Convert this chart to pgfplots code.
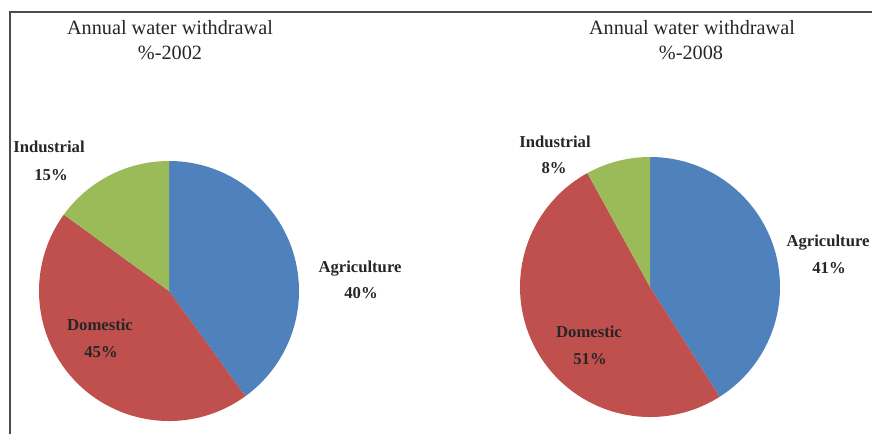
\documentclass[border=0pt]{standalone}
\usepackage{fontspec}
\setmainfont{Liberation Serif}
\usepackage{pgfplots}
\pgfplotsset{compat=1.18}

\definecolor{agri}{HTML}{4F81BD}
\definecolor{dome}{HTML}{C0504D}
\definecolor{indu}{HTML}{9BBB59}

% one wedge: centre x, centre y, start angle, share in %, colour (radius 130 px)
\newcommand{\slice}[5]{%
  \fill[#5] (axis cs:#1,#2) -- ++(#3:97.5pt)
    arc[start angle=#3, end angle={#3-3.6*#4}, radius=97.5pt] -- cycle;}

\begin{document}
\begin{tikzpicture}
\useasboundingbox (0,0) rectangle (654pt,324.75pt);
\clip (0,0) rectangle (654pt,324.75pt);
\begin{axis}[
    x=0.75pt, y=0.75pt,
    xmin=0, xmax=872, ymin=0, ymax=433,
    hide axis, clip=false,
  ]
  % 2002: Agriculture 40, Domestic 45, Industrial 15
  \slice{169}{142}{90}{40}{agri}
  \slice{169}{142}{-54}{45}{dome}
  \slice{169}{142}{-216}{15}{indu}
  % 2008: Agriculture 41, Domestic 51, Industrial 8
  \slice{650}{146}{90}{41}{agri}
  \slice{650}{146}{-57.6}{51}{dome}
  \slice{650}{146}{-241.2}{8}{indu}

  \draw[line width=1.1pt, black!70] (axis cs:10,-5) -- (axis cs:10,421) -- (axis cs:880,421);

  \tikzset{ttl/.style={font=\fontsize{15.2}{18}\selectfont, text=black!85},
           lbl/.style={font=\bfseries\fontsize{12.5}{15}\selectfont, text=black!85}}
  \node[ttl] at (axis cs:170,405) {Annual water withdrawal};
  \node[ttl] at (axis cs:170,380) {\%-2002};
  \node[ttl] at (axis cs:692,405) {Annual water withdrawal};
  \node[ttl] at (axis cs:691,380) {\%-2008};

  \node[lbl] at (axis cs:49,286) {Industrial};
  \node[lbl] at (axis cs:51,258) {15\%};
  \node[lbl] at (axis cs:360,164) {Agriculture};
  \node[lbl] at (axis cs:361,140) {40\%};
  \node[lbl] at (axis cs:100,108) {Domestic};
  \node[lbl] at (axis cs:101,81) {45\%};

  \node[lbl] at (axis cs:555,291) {Industrial};
  \node[lbl] at (axis cs:554,265) {8\%};
  \node[lbl] at (axis cs:828,190) {Agriculture};
  \node[lbl] at (axis cs:829,165) {41\%};
  \node[lbl] at (axis cs:589,101) {Domestic};
  \node[lbl] at (axis cs:590,74) {51\%};
\end{axis}
\end{tikzpicture}
\end{document}
